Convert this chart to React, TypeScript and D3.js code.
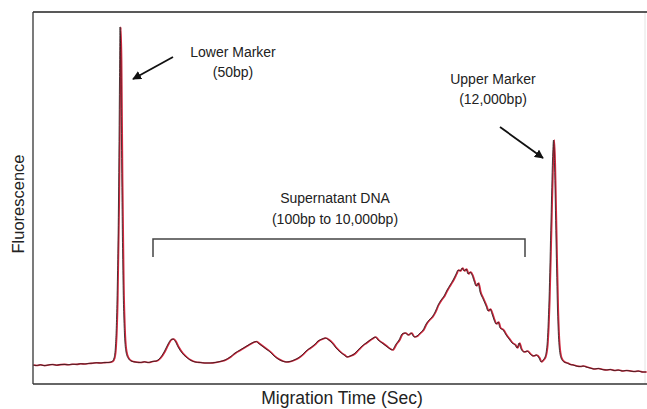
import React from "react";
import * as d3 from "d3";

// Migration time (arbitrary seconds units) and fluorescence (arbitrary units)
const times: number[] = [
  0, 3, 7, 11, 15, 19, 23, 27, 31, 35, 39, 43, 47, 51, 55, 59, 63, 67, 71, 75, 79, 81, 82.5, 84, 85.5, 86.5, 87, 87.8, 88.8, 90, 91.5, 93, 95, 98,
  102, 107, 111, 115, 119, 123, 127, 131, 135, 138, 140, 142, 145, 149, 153, 157, 162, 167, 172, 177, 182, 187, 192, 197, 202, 207, 212, 217,
  221, 223, 225, 229, 233, 237, 241, 245, 249, 253, 257, 261, 265, 269, 273, 277, 281, 285, 289, 292, 295, 299, 303, 307, 311, 314, 317, 321,
  325, 329, 333, 337, 340, 342, 345, 349, 353, 357, 359, 363, 366, 369, 372, 375, 378, 381, 384, 387, 390, 393, 396, 399, 402, 405, 408, 411,
  414, 417, 420, 423, 425, 427, 429, 431, 433, 435, 437, 439, 441, 443, 445, 447, 450, 453, 455, 457, 459, 461, 463, 465, 467, 470, 473, 476,
  479, 482, 484, 486, 488, 491, 494, 497, 500, 503, 506, 508, 510, 512, 514, 516, 518, 519.5, 520.5, 521.5, 523, 524.5, 526, 528, 531, 534,
  537, 540, 543, 547, 550, 553, 557, 561, 565, 569, 573, 577, 581, 585, 589, 593, 597, 601, 605, 609, 613,
];
const fluorescence: number[] = [
  19, 18.5, 19.2, 18.4, 19, 19.5, 18.8, 19.4, 19.6, 19.2, 19.8, 19.6, 20.2, 20, 20.5, 20.8, 21.2, 21, 21.4, 21.5, 22.5, 26, 39, 84, 184, 304, 357, 324, 204, 104, 49, 32, 26, 23,
  22, 21.5, 22.2, 21.5, 22.5, 23, 26, 32, 40, 44.5, 45, 43, 37, 31, 27, 24, 22, 21.5, 21, 21, 21.5, 22.5, 24, 27, 31, 34, 37, 40,
  42, 42.5, 41, 38, 35, 32, 28, 25, 23, 22, 22.5, 24, 26, 29, 33, 36, 39, 43, 45, 46, 44.5, 41, 36, 32, 29, 27, 28, 30,
  34, 38, 41, 44, 46, 47, 44, 41, 38, 35, 34, 40, 44, 50, 51, 49, 51, 47, 48, 51, 54, 60, 64, 67, 72, 79, 84, 88,
  94, 99, 104, 110, 114, 113, 116, 113, 115, 110, 112, 109, 103, 98, 101, 92, 85, 78, 73, 75, 70, 64, 60, 62, 56, 54, 49, 45,
  41, 39, 36, 41, 35, 32, 33, 30, 28, 29, 26, 22, 24, 27, 39, 84, 164, 224, 244, 219, 144, 74, 39, 26, 22, 21,
  19.5, 19, 18, 17.5, 18, 17, 16, 15, 15.5, 14.5, 14, 14.5, 13.5, 14, 13, 13.5, 13, 12.5, 13, 12, 12,
];

const xDomain: [number, number] = [0, 613];
const yDomain: [number, number] = [0, 372];

// Annotation anchors in data units
const annotations = [
  { lines: ["Lower Marker", "(50bp)"], t: 200, f: 327, arrowFrom: [140, 327], arrowTo: [100, 305] },
  { lines: ["Upper Marker", "(12,000bp)"], t: 460, f: 300, arrowFrom: [467, 257], arrowTo: [510, 226] },
];
const bracket = { t0: 120, t1: 492, f: 145, tickDepth: 18, lines: ["Supernatant DNA", "(100bp to 10,000bp)"] };

const W = 647;
const H = 409;
const M = { left: 33, top: 12, right: 1, bottom: 25 };

export default function App() {
  const x = d3.scaleLinear().domain(xDomain).range([M.left, W - M.right]);
  const y = d3.scaleLinear().domain(yDomain).range([H - M.bottom, M.top]);
  const data = times.map((t, i) => [t, fluorescence[i]] as [number, number]);
  const line = d3
    .line<[number, number]>()
    .x((d) => x(d[0]))
    .y((d) => y(d[1]))
    .curve(d3.curveMonotoneX);
  const path = line(data) || "";
  const font = "'Liberation Sans', Arial, Helvetica, sans-serif";

  const bx0 = x(bracket.t0);
  const bx1 = x(bracket.t1);
  const by = y(bracket.f);

  return (
    <svg width={W} height={H} style={{ position: "absolute", left: 0, top: 0, background: "#fff" }} fontFamily={font}>
      <defs>
        <marker id="ah" viewBox="0 0 10 10" refX="9" refY="5" markerWidth="5" markerHeight="5" orient="auto">
          <path d="M0,0 L10,5 L0,10 z" fill="#111" />
        </marker>
      </defs>
      {/* frame */}
      <line x1={W - 2} x2={W - 2} y1={M.top} y2={H - M.bottom} stroke="#e4e4e4" strokeWidth={1} />
      <line x1={M.left} x2={W} y1={M.top} y2={M.top} stroke="#222" strokeWidth={1.6} />
      <line x1={M.left} x2={M.left} y1={M.top} y2={H - M.bottom} stroke="#333" strokeWidth={1.3} />
      <line x1={M.left} x2={W} y1={H - M.bottom} y2={H - M.bottom} stroke="#333" strokeWidth={1.3} />

      {/* traces */}
      <path d={path} fill="none" stroke="#d2283f" strokeWidth={1.6} transform="translate(0.8,0)" />
      <path d={path} fill="none" stroke="#2a1a1c" strokeWidth={0.8} />

      {/* bracket */}
      <path
        d={`M${bx0},${by + bracket.tickDepth} V${by} H${bx1} V${by + bracket.tickDepth}`}
        fill="none"
        stroke="#444"
        strokeWidth={1.5}
      />
      <text x={(bx0 + bx1) / 2 - 4} y={by - 36} textAnchor="middle" fontSize={14} fill="#222">
        {bracket.lines[0]}
      </text>
      <text x={(bx0 + bx1) / 2 - 4} y={by - 15} textAnchor="middle" fontSize={14} fill="#222">
        {bracket.lines[1]}
      </text>

      {annotations.map((a, i) => (
        <g key={i}>
          <text x={x(a.t)} y={y(a.f)} textAnchor="middle" fontSize={14} fill="#222">
            {a.lines[0]}
          </text>
          <text x={x(a.t)} y={y(a.f) + 20} textAnchor="middle" fontSize={14} fill="#222">
            {a.lines[1]}
          </text>
          <line
            x1={x(a.arrowFrom[0])}
            y1={y(a.arrowFrom[1])}
            x2={x(a.arrowTo[0])}
            y2={y(a.arrowTo[1])}
            stroke="#111"
            strokeWidth={1.8}
            markerEnd="url(#ah)"
          />
        </g>
      ))}

      {/* axis titles */}
      <text x={(M.left + W) / 2 + 2} y={H - 5} textAnchor="middle" fontSize={17.5} fill="#222">
        Migration Time (Sec)
      </text>
      <text
        transform={`translate(${24},${(M.top + H - M.bottom) / 2 + 6}) rotate(-90)`}
        textAnchor="middle"
        fontSize={16.5}
        fill="#222"
      >
        Fluorescence
      </text>
    </svg>
  );
}
